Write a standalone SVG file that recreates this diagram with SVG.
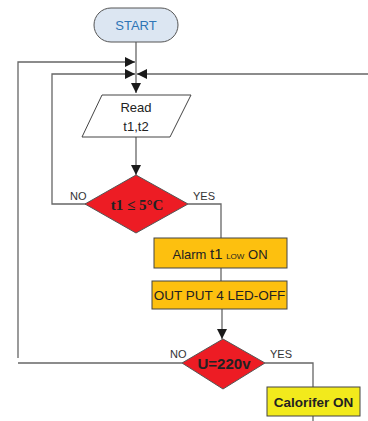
<svg xmlns="http://www.w3.org/2000/svg" width="368" height="421" viewBox="0 0 368 421">
<defs>
<marker id="ah" viewBox="0 0 10 10" refX="10" refY="5" markerWidth="10" markerHeight="10" markerUnits="userSpaceOnUse" orient="auto"><path d="M0,0 L10,5 L0,10 z" fill="#1a1a1a"/></marker>
</defs>
<style>
.ln{fill:none;stroke:#666;stroke-width:1.3}
.lbl{font-family:"Liberation Sans",Arial,sans-serif;font-size:11px;fill:#333}
.t{font-family:"Liberation Sans",Arial,sans-serif;fill:#222}
.box{stroke:#444;stroke-width:1}
</style>
<rect width="368" height="421" fill="#fff"/>
<g id="connectors">
<path class="ln" d="M136,42 V93" marker-end="url(#ah)"/>
<path class="ln" d="M18,358 V62 H135" marker-end="url(#ah)"/>
<path class="ln" d="M86,204 H52 V74 H135" marker-end="url(#ah)"/>
<path class="ln" d="M368,74 H137" marker-end="url(#ah)"/>
<path class="ln" d="M136,137 V175" marker-end="url(#ah)"/>
<path class="ln" d="M188,204 H221 V238"/>
<path class="ln" d="M221,268 V281"/>
<path class="ln" d="M222,309 V339" marker-end="url(#ah)"/>
<path class="ln" d="M182,363 H18"/>
<path class="ln" d="M265,363 H313 V387"/>
<path class="ln" d="M313,416 V421"/>
<text class="lbl" x="70" y="200">NO</text>
<text class="lbl" x="193" y="200">YES</text>
<text class="lbl" x="170" y="358">NO</text>
<text class="lbl" x="270" y="358">YES</text>
</g>
<g id="start">
<rect x="94" y="8" width="84" height="34" rx="17" fill="#DCE6F2" stroke="#555" stroke-width="1"/>
<text x="136" y="30" text-anchor="middle" font-family="'Liberation Sans',Arial,sans-serif" font-size="13" fill="#2E75B6">START</text>
</g>
<g id="read">
<polygon points="102,95 191,95 170,137 82,137" fill="#fff" stroke="#444" stroke-width="1"/>
<text class="t" x="136" y="112" text-anchor="middle" font-size="13">Read</text>
<text class="t" x="136" y="131" text-anchor="middle" font-size="13">t1,t2</text>
</g>
<g id="cond1">
<polygon points="136,175 188,204 136,233 85,204" fill="#ED1C24" stroke="#555" stroke-width="1"/>
<text x="137" y="210" text-anchor="middle" font-family="'Liberation Serif','Times New Roman',serif" font-weight="bold" font-size="15" fill="#222">t1 ≤ 5°C</text>
</g>
<g id="alarm">
<rect class="box" x="154" y="238" width="133" height="30" fill="#FDC00F"/>
<text class="t" x="220" y="259" text-anchor="middle" font-size="13">Alarm <tspan font-size="15">t1</tspan> <tspan font-size="8">LOW</tspan> ON</text>
</g>
<g id="out">
<rect class="box" x="152" y="281" width="135" height="28" fill="#FDC00F"/>
<text class="t" x="219.5" y="300" text-anchor="middle" font-size="13.5">OUT PUT 4 LED-OFF</text>
</g>
<g id="cond2">
<polygon points="223,339 265,363 223,389 182,363" fill="#ED1C24" stroke="#555" stroke-width="1"/>
<text class="t" x="224" y="369" text-anchor="middle" font-size="15" font-weight="bold">U=220v</text>
</g>
<g id="calorifer">
<rect class="box" x="267" y="387" width="93" height="29" fill="#F2EA1C"/>
<text class="t" x="313.5" y="406.5" text-anchor="middle" font-size="13.5" font-weight="bold">Calorifer ON</text>
</g>
</svg>
